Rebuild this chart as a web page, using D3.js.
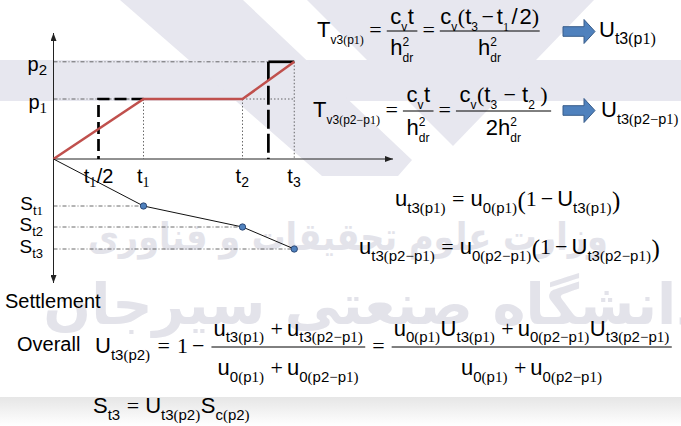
<!DOCTYPE html>
<html>
<head>
<meta charset="utf-8">
<script src="https://cdn.jsdelivr.net/npm/d3@7"></script>
<style>
  html, body { margin: 0; padding: 0; background: #fff; }
  svg { display: block; }
</style>
</head>
<body>
<svg id="fig" width="681" height="426"></svg>
<script>
// ---- data: two-stage loading and the resulting settlement ----
const loadTimes   = [0, 2, 4.2, 5.35];        // t = 0, t1, t2, t3
const loadValues  = [0, 1, 1, 1.62];          // 0, p1, p1, p2
const levelNames  = ["p1", "p2"];
const levelValues = [1, 1.62];
const tickNames   = ["t1/2", "t1", "t2", "t3"];
const tickTimes   = [1, 2, 4.2, 5.35];
const stepTimes   = [1, 4.775];               // equivalent instantaneous loading: t1/2 and (t2+t3)/2
const settleTimes = [0, 2, 4.2, 5.35];
const settleValues = [0, 4.7, 6.8, 9.0];      // 0, St1, St2, St3
const settleNames = ["t1", "t2", "t3"];

const svg = d3.select("#fig");
const INK = "#000";
const SANS = "'Liberation Sans', Arial, Helvetica, sans-serif";
const SERIF = "'Liberation Serif', 'Times New Roman', serif";
const SERIF_CHARS = "()1=+−";
const defs = svg.append("defs");

// ---- background watermark ----
const wm = svg.append("g").attr("fill", "#e7e7ef");
wm.append("polygon").attr("points", "0,60 681,60 681,101 0,101");
wm.append("polygon").attr("points", "120,0 243,0 412,160 398,176 322,176");
wm.append("polygon").attr("points", "307,0 594,0 453,146");
wm.append("text").attr("x", 348).attr("y", 250).attr("text-anchor", "middle")
  .attr("font-family", "'DejaVu Sans', sans-serif").attr("font-weight", "bold")
  .attr("font-size", 38).attr("textLength", 520).attr("lengthAdjust", "spacingAndGlyphs")
  .attr("fill", "#e3e3ea").text("وزارت علوم تحقیقات و فناوری");
wm.append("text").attr("x", 705).attr("y", 324).attr("text-anchor", "end")
  .attr("font-family", "'DejaVu Sans', sans-serif").attr("font-weight", "bold")
  .attr("font-size", 56).attr("fill", "#e3e3ea").text("دانشگاه صنعتی سیرجان");
const grad = defs.append("linearGradient").attr("id", "foot")
  .attr("x1", 0).attr("y1", 0).attr("x2", 0).attr("y2", 1);
grad.append("stop").attr("offset", 0).attr("stop-color", "#e6e6e6");
grad.append("stop").attr("offset", 1).attr("stop-color", "#ffffff");
svg.append("rect").attr("x", 0).attr("y", 397).attr("width", 681).attr("height", 29).attr("fill", "url(#foot)");

// ---- small math typesetter ----
const meas = svg.append("text").attr("x", 10).attr("y", 10).attr("visibility", "hidden");
function textWidth(s, fam, size) {
  meas.attr("font-family", fam).attr("font-size", size).text(s);
  return meas.node().getComputedTextLength();
}
function runs(s) {
  const out = [];
  for (const ch of s) {
    const serif = SERIF_CHARS.includes(ch);
    if (out.length && out[out.length - 1].serif === serif) out[out.length - 1].s += ch;
    else out.push({ s: ch, serif });
  }
  return out;
}
function put(g, s, x, y, size) {
  let cx = x;
  for (const r of runs(s)) {
    const fam = r.serif ? SERIF : SANS;
    const w = textWidth(r.s, fam, size);
    if (g) g.append("text").attr("x", cx).attr("y", y).attr("font-family", fam)
      .attr("font-size", size).attr("fill", INK).text(r.s);
    cx += w;
  }
  return cx - x;
}
const tx = (s, o = {}) => ({ kind: "t", s, ...o });
const sb = (b, sub, o = {}) => ({ kind: "s", b, sub, ...o });
const fr = (num, den, o = {}) => ({ kind: "f", num, den, ...o });
const gp = n => ({ kind: "g", n });
const op = (s, n = 4, m = n) => [gp(n), tx(s), gp(m)];

function layout(g, atoms, x0, y, st) {
  let cx = x0;
  for (const a of atoms.flat(3)) {
    if (a.kind === "g") { cx += a.n; continue; }
    if (a.kind === "t") { cx += put(g, a.s, cx, y + (a.dy || 0), a.size || st.size); continue; }
    if (a.kind === "s") {
      const sz = a.size || st.size, ss = a.subSize || st.sub;
      cx += put(g, a.b, cx, y, sz);
      let ws = 0, wu = 0;
      if (a.sub) ws = put(g, a.sub, cx, y + (a.drop ?? st.drop), ss);
      if (a.sup) wu = put(g, a.sup, cx, y - (a.rise ?? st.rise), a.supSize || ss);
      cx += Math.max(ws, wu) + 0.5;
      continue;
    }
    if (a.kind === "f") {
      const nw = layout(null, a.num, 0, 0, st), dw = layout(null, a.den, 0, 0, st);
      const pad = a.pad ?? st.pad;
      const W = Math.max(nw, dw) + 2 * pad;
      const by = y - st.axis;
      if (g) g.append("line").attr("x1", cx).attr("x2", cx + W).attr("y1", by).attr("y2", by)
        .attr("stroke", INK).attr("stroke-width", 1);
      layout(g, a.num, cx + (W - nw) / 2, by - (a.ns ?? st.ns), st);
      layout(g, a.den, cx + (W - dw) / 2, by + (a.ds ?? st.ds), st);
      cx += W;
    }
  }
  return cx - x0;
}
function typeset(atoms, x, y, st, anchor = "start") {
  const w = layout(null, atoms, 0, 0, st);
  const x0 = anchor === "middle" ? x - w / 2 : anchor === "end" ? x - w : x;
  layout(svg.append("g"), atoms, x0, y, st);
  return w;
}

// ---- scales ----
const x = d3.scaleLinear().domain([0, 7.5]).range([53.5, 391]);
const yP = d3.scaleLinear().domain([0, 2.1]).range([159, 33]);
const yS = d3.scaleLinear().domain([0, 12.2]).range([159, 281]);

defs.append("marker").attr("id", "arr").attr("viewBox", "0 0 8 6").attr("refX", 8).attr("refY", 3)
  .attr("markerUnits", "userSpaceOnUse").attr("markerWidth", 8).attr("markerHeight", 6)
  .attr("orient", "auto").append("path").attr("d", "M0,0L8,3L0,6Z").attr("fill", "#222");

const chart = svg.append("g");
const guide = (sel, dash) => sel.attr("stroke", "#444").attr("stroke-width", 0.8)
  .attr("stroke-dasharray", dash).attr("fill", "none");
const DASHDOT = "4,2,1,2", DOT = "1.5,2";

// load level guides
guide(chart.append("line").attr("x1", x(0)).attr("x2", x(tickTimes[3]))
  .attr("y1", yP(levelValues[1])).attr("y2", yP(levelValues[1])), DASHDOT);
guide(chart.append("line").attr("x1", x(0)).attr("x2", x(tickTimes[1]))
  .attr("y1", yP(levelValues[0])).attr("y2", yP(levelValues[0])), DASHDOT);
guide(chart.append("line").attr("x1", x(tickTimes[2])).attr("x2", x(tickTimes[3]))
  .attr("y1", yP(levelValues[0])).attr("y2", yP(levelValues[0])), DOT);
// vertical time guides
[[tickTimes[1], loadValues[1]], [tickTimes[2], loadValues[2]], [tickTimes[3], loadValues[3]]].forEach(([t, p]) => {
  guide(chart.append("line").attr("x1", x(t)).attr("x2", x(t)).attr("y1", yP(p)).attr("y2", yP(0)), DOT);
});
// settlement guides
settleValues.slice(1).forEach((s, i) => {
  guide(chart.append("line").attr("x1", x(0)).attr("x2", x(settleTimes[i + 1]))
    .attr("y1", yS(s)).attr("y2", yS(s)), DASHDOT);
});

// axes
chart.append("line").attr("x1", x(0)).attr("x2", x(7.5) + 2).attr("y1", yP(0)).attr("y2", yP(0))
  .attr("stroke", "#222").attr("stroke-width", 1).attr("marker-end", "url(#arr)");
chart.append("line").attr("x1", x(0)).attr("x2", x(0)).attr("y1", yP(0)).attr("y2", yP(2.1))
  .attr("stroke", "#222").attr("stroke-width", 1).attr("marker-end", "url(#arr)");
chart.append("line").attr("x1", x(0)).attr("x2", x(0)).attr("y1", yS(0)).attr("y2", yS(12.2) + 2)
  .attr("stroke", "#222").attr("stroke-width", 1).attr("marker-end", "url(#arr)");

// equivalent instantaneous loading (dashed steps)
const pline = d3.line().x(d => x(d[0])).y(d => yP(d[1]));
chart.append("path").attr("d", pline([[tickTimes[1], levelValues[0]], [stepTimes[0], levelValues[0]], [stepTimes[0], 0]]))
  .attr("fill", "none").attr("stroke", "#000").attr("stroke-width", 2.7).attr("stroke-dasharray", "12,5");
chart.append("path").attr("d", pline([[stepTimes[1], levelValues[1]], [stepTimes[1], 0]]))
  .attr("fill", "none").attr("stroke", "#000").attr("stroke-width", 2.7).attr("stroke-dasharray", "19,5");
chart.append("path").attr("d", pline([[stepTimes[1], levelValues[1]], [tickTimes[3], levelValues[1]]]))
  .attr("fill", "none").attr("stroke", "#000").attr("stroke-width", 2.7);

// actual loading history
chart.append("path").attr("d", pline(loadTimes.map((t, i) => [t, loadValues[i]])))
  .attr("fill", "none").attr("stroke", "#c0504d").attr("stroke-width", 2.6);

// settlement curve
const sline = d3.line().x(d => x(d[0])).y(d => yS(d[1]));
chart.append("path").attr("d", sline(settleTimes.map((t, i) => [t, settleValues[i]])))
  .attr("fill", "none").attr("stroke", "#111").attr("stroke-width", 1);
chart.selectAll("circle.pt").data(settleTimes.slice(1)).join("circle").attr("class", "pt")
  .attr("cx", t => x(t)).attr("cy", (t, i) => yS(settleValues[i + 1])).attr("r", 3.2)
  .attr("fill", "#4f81bd").attr("stroke", "#1f3864").attr("stroke-width", 0.8);

// ---- chart labels ----
const LBL = { size: 20, sub: 14, drop: 4, rise: 9, axis: 6, pad: 2, ns: 7, ds: 24 };
tickNames.forEach((nm, i) => {
  const [b, rest] = [nm[0], nm.slice(1)];
  const atoms = rest.includes("/") ? [sb(b, rest.split("/")[0]), tx("/" + rest.split("/")[1])] : [sb(b, rest)];
  typeset(atoms, x(tickTimes[i]), 183, LBL, "middle");
});
levelNames.forEach((nm, i) => {
  typeset([sb(nm[0], nm.slice(1), { subSize: 15 })], x(0) - 6, yP(levelValues[i]) + 9.5, LBL, "end");
});
settleNames.forEach((nm, i) => {
  typeset([sb("S", nm, { subSize: 13 })], x(0) - 10, yS(settleValues[i + 1]) + 4, { ...LBL, size: 19, drop: 5 }, "end");
});
svg.append("text").attr("x", 5).attr("y", 308).attr("font-family", SANS).attr("font-size", 20).text("Settlement");
svg.append("text").attr("x", 17).attr("y", 351).attr("font-family", SANS).attr("font-size", 20).text("Overall");

// ---- equations ----
const EQ12 = { size: 22, sub: 12, drop: 6.5, rise: 9.5, axis: 6, pad: 3.5, ns: 7, ds: 24 };
const hdr = () => sb("h", "dr", { sup: "2" });
typeset([sb("T", "v3(p1)"), op("=", 5), fr([sb("c", "v"), tx("t")], [hdr()]), op("=", 5),
  fr([sb("c", "v"), tx("("), sb("t", "3"), op("−", 3), sb("t", "1"), op("/", 2), tx("2"), tx(")")], [hdr()], { pad: 0.5 })],
  317, 37, EQ12);
typeset([sb("T", "v3(p2−p1)"), op("=", 5), fr([sb("c", "v"), tx("t")], [hdr()], { ns: 9 }), op("=", 5),
  fr([sb("c", "v"), tx("("), sb("t", "3"), op("−", 6), sb("t", "2"), gp(5), tx(")")], [tx("2"), hdr()], { ns: 9 })],
  313, 117, EQ12);

// block arrows
function blockArrow(x0, x1, cy) {
  const xh = x1 - 11;
  const d = `M${x0},${cy - 4.8}L${xh},${cy - 4.8}L${xh},${cy - 12}L${x1},${cy}L${xh},${cy + 12}L${xh},${cy + 4.8}L${x0},${cy + 4.8}Z`;
  svg.append("path").attr("d", d).attr("fill", "#4f81bd").attr("stroke", "#385d8a").attr("stroke-width", 1);
}
blockArrow(563, 595, 31.5);
blockArrow(563, 595, 110.5);
typeset([sb("U", "t3(p1)", { subSize: 16 })], 599, 37, EQ12);
typeset([sb("U", "t3(p2−p1)", { subSize: 14.5 })], 601, 117, EQ12);

const EQ = { size: 22, sub: 15, drop: 6.5, rise: 9, axis: 6, pad: 2, ns: 7, ds: 28 };
const bigL = tx("(", { size: 25, dy: 3 }), bigR = tx(")", { size: 25, dy: 3 });
typeset([sb("u", "t3(p1)"), op("=", 6), sb("u", "0(p1)"), bigL, tx("1"), op("−", 4), sb("U", "t3(p1)"), bigR],
  395, 206, EQ);
typeset([sb("u", "t3(p2−p1)"), op("=", 6), sb("u", "0(p2−p1)"), bigL, tx("1"), op("−", 4), sb("U", "t3(p2−p1)"), bigR],
  359, 254, EQ);

const OV = { ...EQ, ns: 11.5, ds: 28 };
typeset([sb("U", "t3(p2)"), op("=", 7), tx("1"), op("−", 4, 7),
  fr([sb("u", "t3(p1)"), op("+", 6, 4), sb("u", "t3(p2−p1)")], [sb("u", "0(p1)"), op("+", 6, 4), sb("u", "0(p2−p1)")]),
  op("=", 7),
  fr([sb("u", "0(p1)"), sb("U", "t3(p1)"), op("+", 6, 4), sb("u", "0(p2−p1)"), sb("U", "t3(p2−p1)")],
     [sb("u", "0(p1)"), op("+", 6, 4), sb("u", "0(p2−p1)")])],
  95, 353, OV);

typeset([sb("S", "t3"), op("=", 6), sb("U", "t3(p2)"), sb("S", "c(p2)")], 93, 413, EQ);
meas.remove();
</script>
</body>
</html>
